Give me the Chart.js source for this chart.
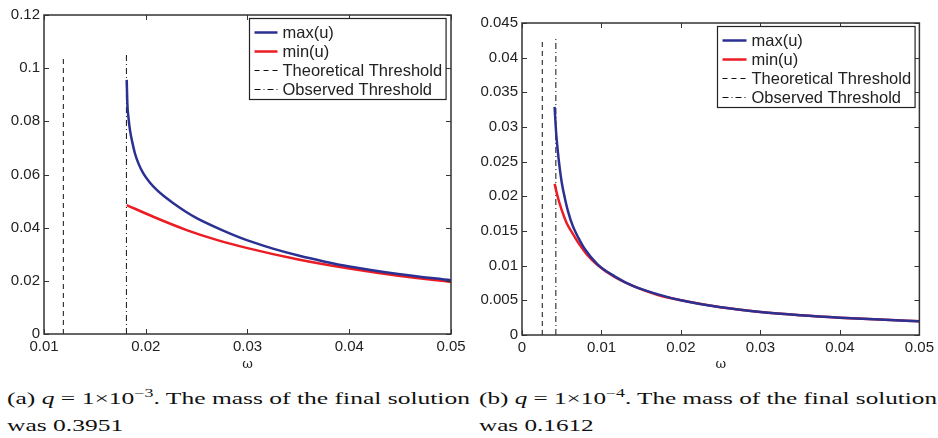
<!DOCTYPE html>
<html>
<head>
<meta charset="utf-8">
<script src="https://cdn.jsdelivr.net/npm/chart.js@4.4.1/dist/chart.umd.min.js"></script>
<style>
  body { margin: 0; background: #fff; width: 938px; height: 438px; overflow: hidden; position: relative; }
  .box { position: absolute; top: 0; height: 372px; }
  .cap { position: absolute; top: 385px; font-family: "Liberation Serif", "DejaVu Serif", serif; font-size: 17px; line-height: 27px; color: #111; white-space: nowrap; transform-origin: 0 0; }
  .cap span { display: inline-block; }
  .cap sup { font-size: 12px; vertical-align: 7px; line-height: 0; }
</style>
</head>
<body>
<div class="box" style="left:0;width:470px"><canvas id="chartA"></canvas></div>
<div class="box" style="left:470px;width:468px"><canvas id="chartB"></canvas></div>
<div class="cap" id="capA" style="left:7px"><span>(a) <i>q</i> = 1×10<sup>−3</sup>. The mass of the final solution</span><br>was 0.3951</div>
<div class="cap" id="capB" style="left:479px"><span>(b) <i>q</i> = 1×10<sup>−4</sup>. The mass of the final solution</span><br>was 0.1612</div>
<script>
// (a) q = 1e-3
const omegaMaxA = [0.01813, 0.01819, 0.01830, 0.01845, 0.01870, 0.01894, 0.01930, 0.01976, 0.02040, 0.02108, 0.02190, 0.02271, 0.02390, 0.02500, 0.02750, 0.0300, 0.0325, 0.0350, 0.0375, 0.0400, 0.0450, 0.0500];
const maxA      = [0.0956, 0.0868, 0.0815, 0.0767, 0.0718, 0.0679, 0.0640, 0.0604, 0.0570, 0.0542, 0.0515, 0.0492, 0.0461, 0.0436, 0.0391, 0.0352, 0.0321, 0.0295, 0.0273, 0.0254, 0.0225, 0.0202];
const omegaMinA = [0.01813, 0.02074, 0.02402, 0.02697, 0.0300, 0.0350, 0.0400, 0.0450, 0.0500];
const minA      = [0.0485, 0.0441, 0.0391, 0.0354, 0.0323, 0.0280, 0.0246, 0.0218, 0.0196];
const theoryA   = { omega: 0.0119, top: 0.1046 };
const observedA = { omega: 0.0181, top: 0.1057 };

// (b) q = 1e-4
const omegaMaxB = [0.0041, 0.0043, 0.0045, 0.0047, 0.0050, 0.0054, 0.0058, 0.0064, 0.0071, 0.0079, 0.0095, 0.0116, 0.0141, 0.0170, 0.0200, 0.0250, 0.0300, 0.0350, 0.0400, 0.0450, 0.0500];
const maxB      = [0.0329, 0.0291, 0.0266, 0.0245, 0.0220, 0.0197, 0.0178, 0.0157, 0.0140, 0.0124, 0.0102, 0.0085, 0.0070, 0.0059, 0.0050, 0.0040, 0.00333, 0.00286, 0.0025, 0.00222, 0.0020];
const omegaMinB = [0.0041, 0.0045, 0.0050, 0.0056, 0.0064, 0.0072, 0.0081, 0.0095, 0.0116, 0.0141, 0.0170, 0.0200, 0.0250, 0.0300, 0.0350, 0.0400, 0.0450, 0.0500];
const minB      = [0.0218, 0.0199, 0.0180, 0.0162, 0.0146, 0.0131, 0.0117, 0.0101, 0.0084, 0.0070, 0.0058, 0.0050, 0.0040, 0.00333, 0.00286, 0.0025, 0.00222, 0.0020];
const theoryB   = { omega: 0.00255, top: 0.04245 };
const observedB = { omega: 0.00426, top: 0.0429 };

const labels = ["max(u)", "min(u)", "Theoretical Threshold", "Observed Threshold"];
const BLUE = "#2b3192", RED = "#ec1c24", INK = "#222";
const FONT = "'Liberation Sans', Arial, sans-serif";

const pts = (xs, ys) => xs.map((x, i) => ({ x, y: ys[i] }));

// MATLAB style box, inward ticks and legend
const matlabFrame = {
  id: "matlabFrame",
  afterDraw(chart, args, opts) {
    const { ctx, chartArea: a, scales: { x, y } } = chart;
    ctx.save();
    ctx.strokeStyle = "#333";
    ctx.lineWidth = 1.5;
    ctx.strokeRect(a.left, a.top, a.right - a.left, a.bottom - a.top);
    ctx.lineWidth = 1;
    ctx.beginPath();
    x.ticks.forEach(t => {
      const p = Math.round(x.getPixelForValue(t.value)) + 0.5;
      ctx.moveTo(p, a.bottom); ctx.lineTo(p, a.bottom - 5);
      ctx.moveTo(p, a.top); ctx.lineTo(p, a.top + 5);
    });
    y.ticks.forEach(t => {
      const p = Math.round(y.getPixelForValue(t.value)) + 0.5;
      ctx.moveTo(a.left, p); ctx.lineTo(a.left + 5, p);
      ctx.moveTo(a.right, p); ctx.lineTo(a.right - 5, p);
    });
    ctx.stroke();

    // legend
    ctx.font = "16.5px " + FONT;
    const tw = Math.max(...chart.data.datasets.map(d => ctx.measureText(d.label).width));
    const w = 6 + opts.sample + 4 + tw + 4, h = 81;
    const bx = Math.round(a.right - 5 - w) + 0.5, by = Math.round(a.top + 3) + 0.5;
    ctx.fillStyle = "#fff";
    ctx.fillRect(bx, by, w, h);
    ctx.strokeStyle = "#222";
    ctx.lineWidth = 1.2;
    ctx.strokeRect(bx, by, w, h);
    chart.data.datasets.forEach((d, i) => {
      const ry = by + 14 + i * 19;
      ctx.beginPath();
      ctx.strokeStyle = d.borderColor;
      ctx.lineWidth = d.borderWidth;
      ctx.setLineDash(d.borderDash || []);
      ctx.moveTo(bx + 5, ry); ctx.lineTo(bx + 5 + opts.sample, ry);
      ctx.stroke();
      ctx.setLineDash([]);
      ctx.fillStyle = INK;
      ctx.textBaseline = "middle";
      ctx.fillText(d.label, bx + 6 + opts.sample + 4, ry + 1);
    });
    ctx.restore();
  }
};

function makeChart(id, o) {
  return new Chart(document.getElementById(id), {
    type: "line",
    data: {
      datasets: [
        { label: labels[0], data: pts(o.omegaMax, o.max), borderColor: BLUE, borderWidth: 2.5, cubicInterpolationMode: "monotone" },
        { label: labels[1], data: pts(o.omegaMin, o.min), borderColor: RED, borderWidth: 2.5, cubicInterpolationMode: "monotone" },
        { label: labels[2], data: [{ x: o.theory.omega, y: 0 }, { x: o.theory.omega, y: o.theory.top }], borderColor: "#111", borderWidth: 1, borderDash: [5, 4] },
        { label: labels[3], data: [{ x: o.observed.omega, y: 0 }, { x: o.observed.omega, y: o.observed.top }], borderColor: "#111", borderWidth: 1, borderDash: [6, 3, 1, 3] }
      ]
    },
    options: {
      responsive: true,
      maintainAspectRatio: false,
      animation: false,
      elements: { point: { radius: 0 } },
      layout: { padding: { top: o.padTop, right: o.padRight, left: 0, bottom: 0 } },
      plugins: { legend: { display: false }, tooltip: { enabled: false }, matlabFrame: { sample: o.sample } },
      scales: {
        x: {
          type: "linear", min: o.xMin, max: 0.05,
          ticks: { stepSize: 0.01, color: INK, font: { family: FONT, size: 15 }, padding: 4, maxRotation: 0,
                   callback: v => String(parseFloat(v.toFixed(4))) },
          grid: { display: false, drawTicks: false },
          border: { display: false },
          title: { display: true, text: "ω", color: INK, font: { family: "'DejaVu Serif', serif", size: 13 }, padding: 0 },
          afterFit: s => { s.height = o.xH; }
        },
        y: {
          min: 0, max: o.yMax,
          ticks: { stepSize: o.yStep, color: INK, font: { family: FONT, size: 15 }, padding: 4,
                   callback: v => String(parseFloat(v.toFixed(4))) },
          grid: { display: false, drawTicks: false },
          border: { display: false },
          afterFit: s => { s.width = o.yW; }
        }
      }
    },
    plugins: [matlabFrame]
  });
}

makeChart("chartA", { omegaMax: omegaMaxA, max: maxA, omegaMin: omegaMinA, min: minA, theory: theoryA, observed: observedA,
  xMin: 0.01, yMax: 0.12, yStep: 0.02, padTop: 15, padRight: 19, yW: 44, xH: 38, sample: 23 });
makeChart("chartB", { omegaMax: omegaMaxB, max: maxB, omegaMin: omegaMinB, min: minB, theory: theoryB, observed: observedB,
  xMin: 0, yMax: 0.045, yStep: 0.005, padTop: 23, padRight: 17, yW: 52, xH: 37, sample: 24 });

// stretch captions to the width of the wide TeX font
[["capA", 463], ["capB", 458]].forEach(([id, target]) => {
  const el = document.getElementById(id);
  const w = el.querySelector("span").getBoundingClientRect().width;
  el.style.transform = "scaleX(" + (target / w) + ")";
});
</script>
</body>
</html>
